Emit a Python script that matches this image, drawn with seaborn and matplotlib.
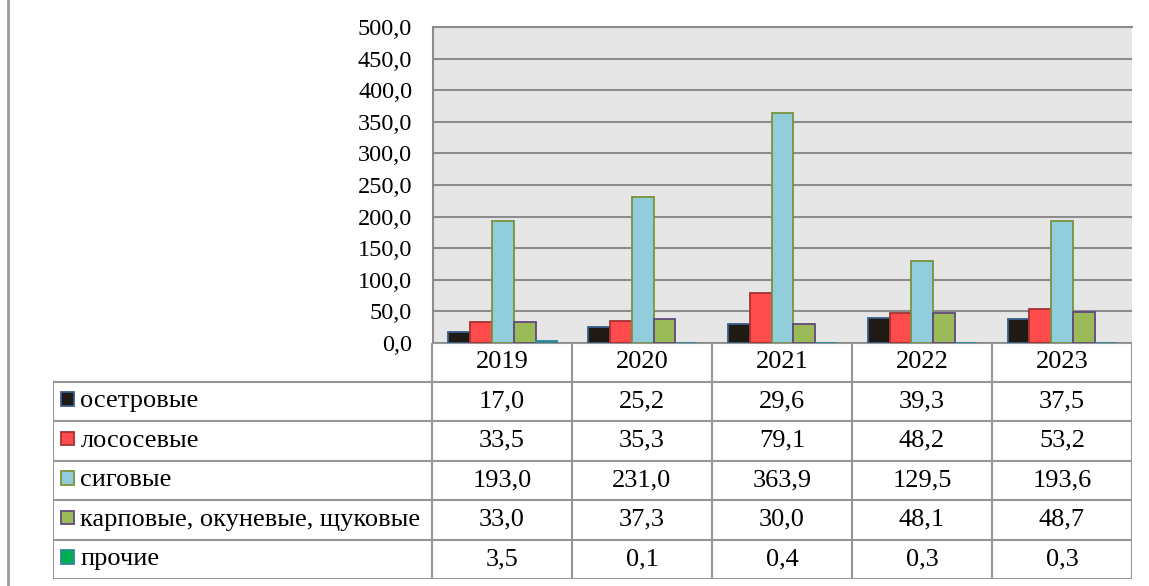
import pandas as pd
import seaborn as sns
import matplotlib.pyplot as plt
from matplotlib.patches import Rectangle

years = ["2019", "2020", "2021", "2022", "2023"]
groups = ["осетровые", "лососевые", "сиговые", "карповые, окуневые, щуковые", "прочие"]
osetrovye = [17.0, 25.2, 29.6, 39.3, 37.5]
lososevye = [33.5, 35.3, 79.1, 48.2, 53.2]
sigovye = [193.0, 231.0, 363.9, 129.5, 193.6]
karpovye = [33.0, 37.3, 30.0, 48.1, 48.7]
prochie = [3.5, 0.1, 0.4, 0.3, 0.3]
yticks = [0, 50, 100, 150, 200, 250, 300, 350, 400, 450, 500]

fill_colors = ["#1f1a14", "#ff4b4b", "#92cddc", "#9bbb59", "#00b050"]
edge_colors = ["#385d8a", "#a33333", "#77933c", "#604a7b", "#31859c"]

series = [osetrovye, lososevye, sigovye, karpovye, prochie]
rows = []
for g, vals in zip(groups, series):
    for y, v in zip(years, vals):
        rows.append({"year": y, "group": g, "value": v})
df = pd.DataFrame(rows)

FONT = "Liberation Serif"
FS = 19
plt.rcParams["font.family"] = FONT
plt.rcParams["font.size"] = FS

W, H = 1149, 586
fig = plt.figure(figsize=(W / 100, H / 100), dpi=100)

# chart area
ax = fig.add_axes([433 / W, 1 - 343 / H, (1132 - 433) / W, (343 - 27) / H])
ax.set_facecolor("#e6e6e6")
sns.barplot(data=df, x="year", y="value", hue="group", hue_order=groups,
            palette=fill_colors, saturation=1, width=0.78, ax=ax, legend=False)
for cont, ec in zip(ax.containers, edge_colors):
    for bar in cont:
        bar.set_edgecolor(ec)
        bar.set_linewidth(1.3)
ax.set_ylim(0, 500)
ax.set_xlim(-0.5, 4.5)
ax.set_yticks(yticks)
ax.set_yticklabels([f"{t:.1f}".replace(".", ",") for t in yticks], family=FONT, fontsize=17.5)
ax.tick_params(axis="y", length=0, pad=15)
ax.set_xticks([])
ax.set_xlabel("")
ax.set_ylabel("")
ax.set_axisbelow(True)
ax.grid(axis="y", color="#8c8c8c", linewidth=1.5)
for s in ["right", "bottom"]:
    ax.spines[s].set_visible(False)
for s in ["left", "top"]:
    ax.spines[s].set_color("#8c8c8c")
    ax.spines[s].set_linewidth(1.5)

# data table
tab = fig.add_axes([53 / W, 1 - 579 / H, (1132 - 53) / W, (579 - 343) / H])
label_w = (432 - 53) / 140
head_h = 38.5 / 39.5
tab.set_xlim(-label_w, len(years))
tab.set_ylim(len(groups), -head_h)
tab.axis("off")
lc = "#969696"
lw = 1.5
txt = dict(family=FONT, fontsize=FS, va="center")
# header
tab.plot([0, len(years)], [-head_h, -head_h], color=lc, lw=lw)
for j, y in enumerate(years):
    tab.text(j + 0.5, -head_h / 2, y, ha="center", **txt)
for j in range(len(years) + 1):
    tab.plot([j, j], [-head_h, len(groups)], color=lc, lw=lw)
tab.plot([-label_w, -label_w], [0, len(groups)], color=lc, lw=lw)
for i in range(len(groups) + 1):
    tab.plot([-label_w, len(years)], [i, i], color=lc, lw=lw)
for i, (g, vals) in enumerate(zip(groups, series)):
    tab.add_patch(Rectangle((-label_w + 0.057, i + 0.27), 0.095, 0.34,
                            facecolor=fill_colors[i], edgecolor=edge_colors[i], lw=1.3))
    tab.text(-label_w + 0.195, i + 0.5, g, ha="left", **txt)
    for j, v in enumerate(vals):
        tab.text(j + 0.5, i + 0.5, f"{v:.1f}".replace(".", ","), ha="center", **txt)

# page border line on the left
fig.add_artist(plt.Line2D([7.5 / W, 7.5 / W], [0, 1], color="#9a9a9a", lw=2, transform=fig.transFigure))

fig.savefig("out.png", dpi=100, facecolor="white")
